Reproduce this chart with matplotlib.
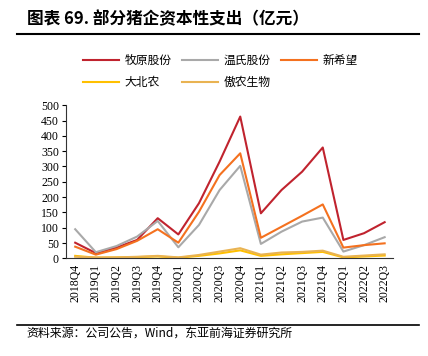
import matplotlib
matplotlib.use("Agg")
import matplotlib.pyplot as plt
from matplotlib.lines import Line2D

plt.rcParams['font.family'] = ['Noto Sans CJK SC', 'DejaVu Sans']

quarters = ["2018Q4", "2019Q1", "2019Q2", "2019Q3", "2019Q4", "2020Q1", "2020Q2", "2020Q3",
            "2020Q4", "2021Q1", "2021Q2", "2021Q3", "2021Q4", "2022Q1", "2022Q2", "2022Q3"]
muyuan = [51, 17, 35, 60, 131, 78, 180, 316, 463, 147, 223, 283, 362, 60, 82, 118]
wens = [95, 20, 40, 71, 122, 36, 109, 223, 302, 47, 87, 120, 133, 22, 43, 69]
newhope = [38, 12, 30, 57, 95, 51, 152, 272, 343, 67, 103, 139, 176, 35, 43, 49]
dabeinong = [8, 2, 3, 4, 6, 2, 8, 16, 26, 8, 13, 17, 21, 3, 6, 9]
aonong = [5, 3, 3, 5, 8, 3, 11, 22, 33, 12, 19, 21, 25, 5, 9, 13]

names = ["牧原股份", "温氏股份", "新希望", "大北农", "傲农生物"]
colors = ["#C0232E", "#A9A9A9", "#F4711F", "#FFC000", "#E9B352"]
yticks = [0, 50, 100, 150, 200, 250, 300, 350, 400, 450, 500]

fig = plt.figure(figsize=(4.28, 3.56), dpi=100)
ax = fig.add_axes([0.154, 0.2744, 0.764, 0.43])

x = range(len(quarters))
lines = []
for series, c in zip([muyuan, wens, newhope, dabeinong, aonong], colors):
    ln, = ax.plot(x, series, color=c, lw=1.5)
    lines.append(ln)

ax.set_xlim(-0.45, 15.4)
ax.set_ylim(0, 500)
ax.set_yticks(yticks)
ax.set_yticklabels([str(v) for v in yticks], family='Liberation Serif', fontsize=8.5)
ax.set_xticks(list(x))
ax.set_xticklabels(quarters, rotation=90, family='Liberation Serif', fontsize=8.5)
ax.tick_params(axis='x', length=0, pad=4)
ax.tick_params(axis='y', length=3, width=0.8, pad=2)
for s in ['top', 'right']:
    ax.spines[s].set_visible(False)
ax.spines['left'].set_color('#333333')
ax.spines['bottom'].set_color('#333333')

# legend fills column-wise, so reorder to get row-wise layout
order = [0, 3, 1, 4, 2]
fig.legend([lines[i] for i in order], [names[i] for i in order], loc='upper left',
           bbox_to_anchor=(0.17, 0.878), ncol=3, frameon=False, fontsize=8.5,
           handlelength=3.0, handletextpad=0.5, columnspacing=0.9, labelspacing=0.75)

fig.text(0.063, 0.945, "图表 69. 部分猪企资本性支出（亿元）", fontsize=12,
         fontweight='bold', va='center', ha='left')
fig.add_artist(Line2D([0.04, 0.98], [0.905, 0.905], color='black', lw=1.5))
fig.add_artist(Line2D([0.04, 0.98], [0.088, 0.088], color='black', lw=1.2))
fig.text(0.063, 0.063, "资料来源：公司公告，Wind，东亚前海证券研究所", fontsize=8.6,
         va='center', ha='left')

fig.savefig("out.png", dpi=100)
